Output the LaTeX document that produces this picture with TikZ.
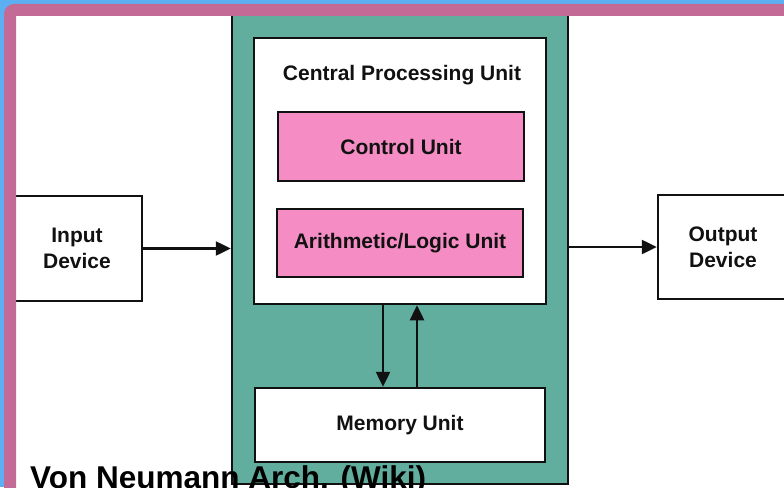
\documentclass[tikz,border=0pt]{standalone}
\usepackage{fontspec}
\setmainfont{Liberation Sans}
\usetikzlibrary{arrows.meta}
\definecolor{skyblue}{HTML}{5CB0F2}
\definecolor{framepink}{HTML}{C46A96}
\definecolor{tealfill}{HTML}{62AE9E}
\definecolor{unitpink}{HTML}{F58DC4}
\definecolor{inkblack}{HTML}{111111}

\begin{document}
\begin{tikzpicture}[x=1pt,y=-1pt,
  box/.style={draw=inkblack, line width=2.5pt, fill=white, text=inkblack,
    font=\bfseries\fontsize{21}{26}\selectfont, align=center, inner sep=0pt},
  unitbox/.style={box, fill=unitpink},
  flow/.style={draw=inkblack, line width=2.5pt, -{Triangle[length=15pt,width=14pt]}},
]
\useasboundingbox (0,0) rectangle (784,487);
% page background
\fill[skyblue] (0,0) rectangle (784,487);
\fill[white] (16,16) rectangle (830,530);

% the processor frame
\node[box, fill=tealfill, minimum width=336pt, minimum height=472pt] (cpuframe) at (400,248) {};
\node[box, minimum width=292pt, minimum height=266pt] (cpu) at (400,171) {};
\node[text=inkblack, font=\bfseries\fontsize{21}{26}\selectfont, inner sep=0pt] (cpulabel) at (402,75) {Central Processing Unit};
\node[unitbox, minimum width=246pt, minimum height=69pt] (cu) at (401,146.5) {Control Unit};
\node[unitbox, minimum width=246pt, minimum height=68pt] (alu) at (400,243) {Arithmetic/Logic Unit};
\node[box, minimum width=290pt, minimum height=74pt] (mem) at (400,425) {Memory Unit};

% devices
\node[box, minimum width=130pt, minimum height=105pt] (in) at (77,248.5) {Input\\Device};
\node[box, minimum width=130pt, minimum height=104pt] (out) at (723,247) {Output\\Device};

% data paths
\draw[flow] (in.east) -- (in.east -| cpuframe.west);
\draw[flow] (out.west -| cpuframe.east) -- (out.west);
\draw[flow] ([xshift=-17pt]cpu.south) -- ([xshift=-17pt]mem.north);
\draw[flow] ([xshift=17pt]mem.north) -- ([xshift=17pt]cpu.south);

% border
\fill[framepink, even odd rule] [rounded corners=10pt] (4,4) rectangle (820,520)
  [sharp corners] (16,16) rectangle (830,530);

% caption
\node[anchor=base west, inner sep=0pt, text=black,
  font=\bfseries\fontsize{31.5}{36}\selectfont] (caption) at (30,488) {Von Neumann Arch. (Wiki)};
\end{tikzpicture}
\end{document}
